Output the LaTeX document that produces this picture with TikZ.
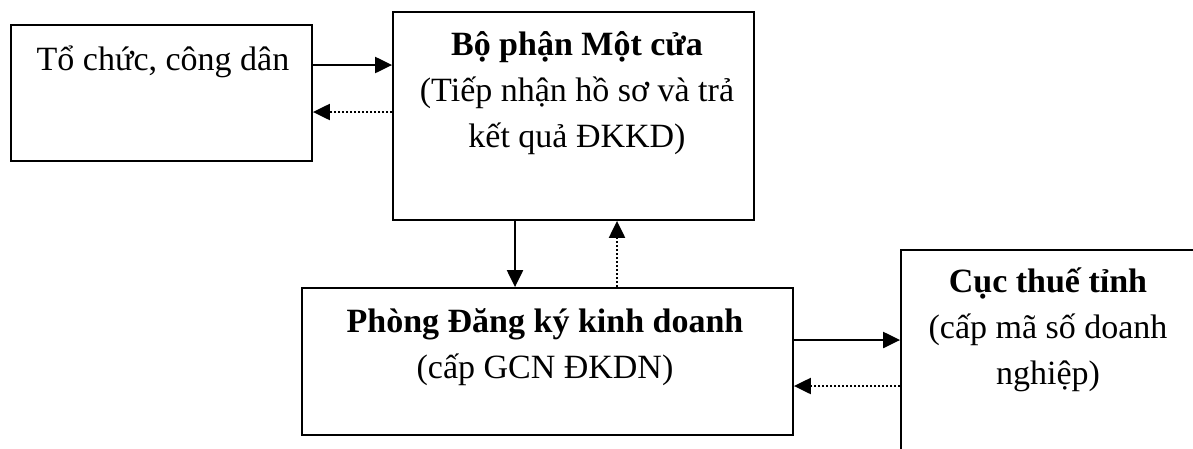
\documentclass[tikz,border=0pt]{standalone}
\usepackage{fontspec}
\setmainfont{Liberation Serif}
\usetikzlibrary{arrows.meta, positioning}

\begin{document}
\begin{tikzpicture}[
  x=1pt, y=-1pt,
  box/.style={rectangle, draw=black, line width=1.8pt, inner sep=0pt},
  boxtext/.style={inner sep=0pt, align=center, anchor=base,
                  font=\fontsize{34}{46}\selectfont},
  flow/.style={-{Triangle[length=17pt,width=16pt]}, line width=2.2pt},
  back/.style={flow, dash pattern=on 1.8pt off 2.2pt}
]
\useasboundingbox (0,0) rectangle (1193,448);
\clip (0,0) rectangle (1193,448);

% boxes
\node[box, minimum width=301pt, minimum height=136pt] (citizen) at (161.5,93) {};
\node[box, minimum width=361pt, minimum height=208pt] (onestop) at (573.5,116) {};
\node[box, minimum width=491pt, minimum height=147pt] (dkkd) at (547.5,361.5) {};
\node[box, minimum width=304pt, minimum height=220pt] (tax) at (1053,360) {};

% texts (anchored at the baseline of the last line)
\node[boxtext] (citizentext) at (163,70) {Tổ chức, công dân};
\node[boxtext] (onestoptext) at (577,147) {%
  \textbf{Bộ phận Một cửa}\\
  (Tiếp nhận hồ sơ và trả\\
  kết quả ĐKKD)};
\node[boxtext] (dkkdtext) at (545,378) {%
  \textbf{Phòng Đăng ký kinh doanh}\\
  (cấp GCN ĐKDN)};
\node[boxtext] (taxtext) at (1048,384) {%
  \textbf{Cục thuế tỉnh}\\
  (cấp mã số doanh\\
  nghiệp)};

% connectors
\draw[flow] (citizen.east |- 0,65) -- (onestop.west |- 0,65);
\draw[back] (onestop.west |- 0,112) -- (citizen.east |- 0,112);
\draw[flow] (onestop.south -| 515,0) -- (dkkd.north -| 515,0);
\draw[back] (dkkd.north -| 617,0) -- (onestop.south -| 617,0);
\draw[flow] (dkkd.east |- 0,340) -- (tax.west |- 0,340);
\draw[back] (tax.west |- 0,386) -- (dkkd.east |- 0,386);
\end{tikzpicture}
\end{document}
